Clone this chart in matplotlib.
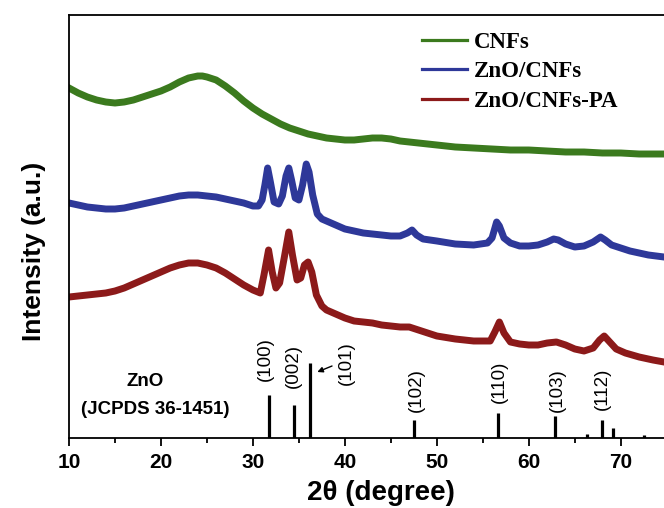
import matplotlib
matplotlib.use("Agg")
import matplotlib.pyplot as plt
from matplotlib.ticker import MultipleLocator

# ---------------- data (intensity in arbitrary units) ----------------
cnf_2theta = [10.0, 11.0, 12.0, 13.0, 14.0, 15.0, 16.0, 17.0, 18.0, 19.0, 20.0, 21.0, 22.0, 23.0,
              24.0, 24.5, 25.0, 26.0, 27.0, 28.0, 29.0, 30.0, 31.0, 32.0, 33.0, 34.0, 35.0, 36.0,
              37.0, 38.0, 39.0, 40.0, 41.0, 42.0, 43.0, 44.0, 45.0, 46.0, 48.0, 50.0, 52.0, 54.0,
              56.0, 58.0, 60.0, 62.0, 64.0, 66.0, 68.0, 70.0, 72.0, 74.7]
cnf_int = [350, 345, 341, 338, 336, 335, 336, 338, 341, 344, 347, 351, 356, 360,
           362, 362, 361, 358, 352, 345, 337, 330, 324, 319, 314, 310, 307, 304,
           302, 300, 299, 298, 298, 299, 300, 300, 299, 297, 295, 293, 291, 290,
           289, 288, 288, 287, 286, 286, 285, 285, 284, 284]

zno_2theta = [10.0, 11.0, 12.0, 13.0, 14.0, 15.0, 16.0, 17.0, 18.0, 19.0, 20.0, 21.0, 22.0, 23.0,
              24.0, 25.0, 26.0, 27.0, 28.0, 29.0, 30.0, 30.6, 31.0, 31.3, 31.6, 31.9, 32.3, 32.8,
              33.2, 33.6, 33.9, 34.2, 34.6, 35.0, 35.4, 35.8, 36.1, 36.5, 37.0, 37.5, 38.0, 39.0,
              40.0, 41.0, 42.0, 43.0, 44.0, 45.0, 46.0, 46.8, 47.3, 47.8, 48.5, 50.0, 52.0, 54.0,
              55.5, 56.0, 56.5, 56.8, 57.3, 58.0, 59.0, 60.0, 61.0, 62.0, 62.7, 63.2, 64.0, 65.0,
              66.0, 67.0, 67.8, 68.3, 69.0, 70.0, 71.0, 72.0, 73.0, 74.7]
zno_int = [235, 233, 231, 230, 229, 229, 230, 232, 234, 236, 238, 240, 242, 243,
           243, 242, 241, 239, 237, 235, 232, 232, 238, 253, 270, 256, 236, 234,
           242, 262, 270, 258, 240, 238, 253, 274, 266, 243, 224, 219, 217, 213,
           209, 207, 205, 204, 203, 202, 202, 205, 208, 203, 199, 197, 194, 193,
           195, 200, 216, 212, 200, 195, 192, 192, 193, 196, 199, 198, 194, 191,
           192, 196, 201, 198, 193, 190, 187, 185, 183, 181]

pa_2theta = [10.0, 11.0, 12.0, 13.0, 14.0, 15.0, 16.0, 17.0, 18.0, 19.0, 20.0, 21.0, 22.0, 23.0,
             24.0, 25.0, 26.0, 27.0, 28.0, 29.0, 30.0, 30.8, 31.2, 31.7, 32.1, 32.5, 32.9, 33.4,
             33.9, 34.3, 34.8, 35.2, 35.6, 36.0, 36.4, 36.9, 37.5, 38.0, 39.0, 40.0, 41.0, 42.0,
             43.0, 44.0, 45.0, 46.0, 47.0, 48.0, 50.0, 52.0, 54.0, 55.8, 56.3, 56.8, 57.3, 58.0,
             59.0, 60.0, 61.0, 62.0, 63.0, 64.0, 65.0, 66.0, 67.0, 67.7, 68.2, 68.7, 69.5, 70.5,
             72.0, 73.5, 74.7]
pa_int = [141, 142, 143, 144, 145, 147, 150, 154, 158, 162, 166, 170, 173, 175,
          175, 173, 170, 165, 159, 153, 148, 145, 163, 188, 166, 150, 155, 180,
          206, 183, 158, 160, 173, 176, 166, 143, 132, 128, 124, 120, 117, 116,
          115, 113, 112, 111, 111, 108, 102, 99, 97, 97, 106, 116, 105, 96,
          94, 93, 93, 95, 96, 93, 89, 87, 90, 98, 102, 97, 89, 85,
          81, 78, 76]

ref_2theta = [31.77, 34.42, 36.25, 47.54, 56.60, 62.86, 66.38, 67.96, 69.10, 72.56]
ref_int = [43, 33, 75, 18, 25, 22, 4, 18, 10, 3]
hkl_labels = ["(100)", "(002)", "(101)", "(102)", "(110)", "(103)", "(112)"]
hkl_2theta = [31.4, 34.35, 40.2, 47.8, 56.85, 63.15, 68.05]
hkl_int = [79, 72, 75, 48, 56, 48, 49]

series_names = ["CNFs", "ZnO/CNFs", "ZnO/CNFs-PA"]
series_colors = ["#3b7a1e", "#2e3899", "#8c1a1a"]

x_ticks = [10, 20, 30, 40, 50, 60, 70]

# ---------------- figure ----------------
plt.rcParams['font.family'] = ['Liberation Sans', 'DejaVu Sans']
fig = plt.figure(figsize=(6.64, 5.08), dpi=100)
ax = fig.add_axes([69 / 664, 70 / 508, 1 - 69 / 664, (438 - 15) / 508])

lw = 5.0
l1, = ax.plot(cnf_2theta, cnf_int, color=series_colors[0], lw=lw, solid_joinstyle='round')
l2, = ax.plot(zno_2theta, zno_int, color=series_colors[1], lw=lw, solid_joinstyle='round')
l3, = ax.plot(pa_2theta, pa_int, color=series_colors[2], lw=lw, solid_joinstyle='round')

ax.vlines(ref_2theta, 0, ref_int, colors='black', lw=2.3)

for lab, x, y in zip(hkl_labels, hkl_2theta, hkl_int):
    ax.text(x, y, lab, rotation=90, ha='center', va='center', fontsize=13.5)

ax.annotate('', xy=(37.0, 66), xytext=(38.6, 72),
            arrowprops=dict(arrowstyle='-|>', lw=1.0, color='black', mutation_scale=8,
                            shrinkA=0, shrinkB=0))

ax.text(18.3, 56, "ZnO", ha='center', va='center', fontsize=13.5, fontweight='bold')
ax.text(19.4, 28, "(JCPDS 36-1451)", ha='center', va='center', fontsize=13.5, fontweight='bold')

ax.set_xlim(10, 74.7)
ax.set_ylim(0, 423)
ax.set_xticks(x_ticks)
ax.xaxis.set_minor_locator(MultipleLocator(5))
ax.tick_params(axis='x', which='major', direction='out', length=6, width=1.3,
               labelsize=15, pad=5)
ax.tick_params(axis='x', which='minor', direction='out', length=3.5, width=1.3)
for t in ax.get_xticklabels():
    t.set_fontweight('bold')
ax.set_yticks([])
ax.spines['right'].set_visible(False)
for s in ['left', 'top', 'bottom']:
    ax.spines[s].set_linewidth(1.3)

fig.text(381 / 664, 1 - 493 / 508, "2θ (degree)", ha='center', va='center',
         fontsize=20, fontweight='bold')
fig.text(34 / 664, 1 - 251 / 508, "Intensity (a.u.)", ha='center', va='center',
         rotation=90, fontsize=19, fontweight='bold')

leg = fig.legend([l1, l2, l3], series_names, loc='upper left',
                 bbox_to_anchor=(422 / 664, 1 - 32 / 508), bbox_transform=fig.transFigure,
                 frameon=False, borderpad=0, borderaxespad=0, handlelength=1.95,
                 handletextpad=0.3, labelspacing=0.36,
                 prop={'family': 'Liberation Serif', 'weight': 'bold', 'size': 16.5})
for h in leg.get_lines():
    h.set_linewidth(2.3)

fig.savefig("out.png", dpi=100)
